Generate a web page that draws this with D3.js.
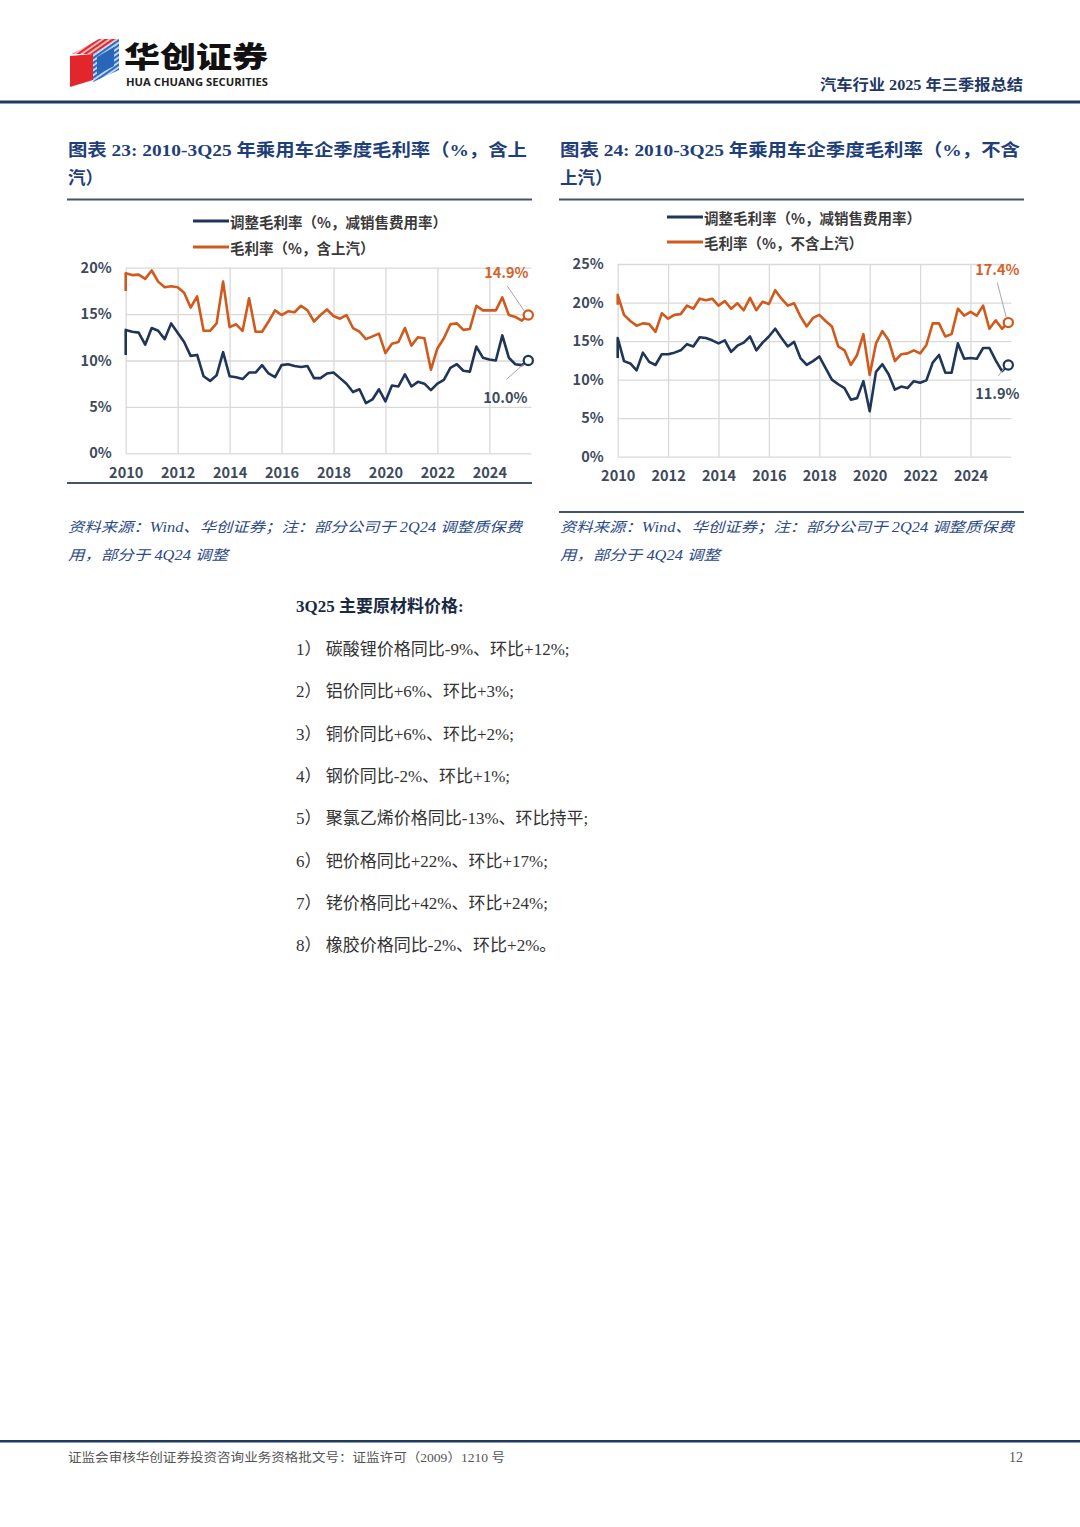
<!DOCTYPE html>
<html><head><meta charset="utf-8">
<script src="https://cdn.jsdelivr.net/npm/d3@7"></script>
<style>
html,body{margin:0;padding:0;background:#fff;}
svg{display:block;}
</style></head>
<body>
<svg id="page" width="1080" height="1527"></svg>
<script>
// ---------- DATA ----------
const years = [2010, 2012, 2014, 2016, 2018, 2020, 2022, 2024];
const firstYear = 2010;
const nQuarters = 63; // 2010Q1 .. 2025Q3
const quarters = d3.range(nQuarters).map(i => `${firstYear + Math.floor(i / 4)}Q${(i % 4) + 1}`);

// Chart 23 (含上汽)
const c1Open = { adj: 10.6, gm: 17.5 };
const c1Adj = [13.3,13.1,13.0,11.7,13.5,13.2,12.3,14.0,13.0,12.0,10.5,10.6,8.3,7.8,8.4,10.9,
  8.3,8.2,8.0,8.7,8.7,9.5,8.6,8.2,9.5,9.6,9.4,9.3,9.4,8.1,8.1,8.6,
  8.7,8.1,7.5,6.6,6.9,5.4,5.8,6.9,5.6,7.3,7.2,8.5,7.2,7.7,7.5,6.8,
  7.5,7.9,9.2,9.6,8.9,8.8,11.5,10.3,10.1,10.0,12.7,10.3,9.6,9.5,10.0];
const c1Gm = [19.4,19.2,19.25,18.8,19.7,18.5,17.9,18.0,17.9,17.3,15.7,16.9,13.2,13.2,14.0,18.5,
  13.6,13.9,13.2,16.7,13.1,13.1,14.2,15.4,14.9,15.3,15.2,15.9,15.4,14.2,14.9,15.5,
  14.8,14.5,14.9,13.5,13.1,12.3,12.6,12.9,10.8,11.8,12.0,13.5,11.6,12.5,12.4,9.0,
  11.3,12.4,13.9,14.0,13.3,13.4,15.9,15.4,15.4,15.4,16.8,14.9,14.7,14.3,14.9];

// Chart 24 (不含上汽)
const c2Open = { adj: 12.8, gm: 19.7 };
const c2Adj = [15.4,12.4,12.1,11.2,13.5,12.3,11.9,13.3,13.3,13.5,13.8,14.6,14.3,15.5,15.4,15.1,
  14.7,15.1,13.6,14.4,14.8,15.6,13.8,14.8,15.6,16.6,15.4,14.3,14.9,12.8,11.9,12.4,
  13.0,11.5,10.0,9.4,8.9,7.4,7.6,9.8,5.9,11.0,12.0,10.7,8.7,9.1,8.9,9.8,
  9.6,9.9,12.2,13.2,10.9,10.9,14.7,12.7,12.8,12.7,14.1,14.1,12.5,11.1,11.9];
const c2Gm = [21.0,18.4,17.6,17.0,17.3,17.2,16.2,18.6,17.9,18.4,18.5,19.6,19.2,20.5,20.3,20.5,
  19.6,20.2,19.2,19.9,19.0,20.6,19.0,20.1,19.8,21.6,20.5,19.6,19.9,18.2,16.9,18.0,
  18.4,17.6,16.9,14.3,13.8,11.9,13.2,15.9,10.6,14.7,16.3,15.1,12.4,13.3,13.4,13.8,
  13.4,14.5,17.3,17.3,15.6,15.9,19.2,18.3,18.8,18.3,19.6,16.6,17.7,16.6,17.4];

const c1Ticks = [0, 5, 10, 15, 20];
const c2Ticks = [0, 5, 10, 15, 20, 25];
const legend1 = ["调整毛利率（%，减销售费用率）", "毛利率（%，含上汽）"];
const legend2 = ["调整毛利率（%，减销售费用率）", "毛利率（%，不含上汽）"];

const listItems = [
  "1） 碳酸锂价格同比-9%、环比+12%;",
  "2） 铝价同比+6%、环比+3%;",
  "3） 铜价同比+6%、环比+2%;",
  "4） 钢价同比-2%、环比+1%;",
  "5） 聚氯乙烯价格同比-13%、环比持平;",
  "6） 钯价格同比+22%、环比+17%;",
  "7） 铑价格同比+42%、环比+24%;",
  "8） 橡胶价格同比-2%、环比+2%。"
];

// ---------- STYLE ----------
const NAVY = "#1f3559";
const ORANGE = "#d0591c";
const TITLE_BLUE = "#1f3f7a";
const AXIS_TXT = "#3d4a5c";
const SANS = "'Noto Sans CJK SC','Noto Sans',sans-serif";
const SERIF = "'Liberation Serif','Noto Sans CJK SC',serif";

const svg = d3.select("#page");

// ---------- HEADER ----------
const defs = svg.append("defs");
const pr = defs.append("pattern").attr("id", "redStripe").attr("patternUnits", "userSpaceOnUse")
  .attr("width", 4).attr("height", 4).attr("patternTransform", "rotate(-35)");
pr.append("rect").attr("width", 4).attr("height", 4).attr("fill", "#f7c9c9");
pr.append("rect").attr("width", 4).attr("height", 2.2).attr("fill", "#e0262b");
const pb = defs.append("pattern").attr("id", "blueStripe").attr("patternUnits", "userSpaceOnUse")
  .attr("width", 4).attr("height", 4).attr("patternTransform", "rotate(-35)");
pb.append("rect").attr("width", 4).attr("height", 4).attr("fill", "#cfe0f5");
pb.append("rect").attr("width", 4).attr("height", 2.2).attr("fill", "#2a6cc0");

const logo = svg.append("g");
logo.append("polygon").attr("points", "72,54 99,39 119,39 93,54").attr("fill", "url(#redStripe)");
logo.append("polygon").attr("points", "70,56 93,54 93,80 70,87").attr("fill", "#e3262c");
logo.append("polygon").attr("points", "93,54 119,39 119,70 93,82").attr("fill", "url(#blueStripe)");
logo.append("polygon").attr("points", "97,57 114,47 114,66 97,75").attr("fill", "#2a66b8");

svg.append("text").attr("x", 124).attr("y", 68).attr("font-family", SANS).attr("font-weight", 900)
  .attr("font-size", 29).attr("fill", "#111").attr("textLength", 144).attr("lengthAdjust", "spacingAndGlyphs").text("华创证券");
svg.append("text").attr("x", 126).attr("y", 85.5).attr("font-family", "'Open Sans','Liberation Sans',sans-serif").attr("font-weight", 700)
  .attr("font-size", 10).attr("fill", "#222").attr("textLength", 142).attr("lengthAdjust", "spacingAndGlyphs").text("HUA CHUANG SECURITIES");
svg.append("text").attr("x", 1023).attr("y", 90).attr("text-anchor", "end").attr("font-family", SERIF)
  .attr("font-weight", 700).attr("font-size", 15).attr("fill", "#1f3864")
  .attr("textLength", 203).attr("lengthAdjust", "spacingAndGlyphs").text("汽车行业 2025 年三季报总结");
svg.append("rect").attr("x", 0).attr("y", 100.5).attr("width", 1080).attr("height", 3).attr("fill", "#1e3a5f");

// ---------- TITLES ----------
function title(x, y1, line1, w1, line2) {
  svg.append("text").attr("x", x).attr("y", y1).attr("font-family", SERIF).attr("font-weight", 700)
    .attr("font-size", 17.5).attr("fill", TITLE_BLUE).attr("textLength", w1).attr("lengthAdjust", "spacingAndGlyphs").text(line1);
  svg.append("text").attr("x", x).attr("y", y1 + 28).attr("font-family", SERIF).attr("font-weight", 700)
    .attr("font-size", 17.5).attr("fill", TITLE_BLUE).text(line2);
}
title(68, 156, "图表 23:  2010-3Q25 年乘用车企季度毛利率（%，含上", 459, "汽）");
title(560, 156, "图表 24:  2010-3Q25 年乘用车企季度毛利率（%，不含", 460, "上汽）");

svg.append("rect").attr("x", 67).attr("y", 198.5).attr("width", 465).attr("height", 2).attr("fill", "#44546a");
svg.append("rect").attr("x", 559).attr("y", 198.5).attr("width", 465).attr("height", 2).attr("fill", "#44546a");
svg.append("rect").attr("x", 67).attr("y", 482).attr("width", 465).attr("height", 2).attr("fill", "#44546a");
svg.append("rect").attr("x", 559).attr("y", 511).attr("width", 465).attr("height", 2).attr("fill", "#44546a");

// ---------- CHARTS ----------
function chart(cfg) {
  const g = svg.append("g");
  const x = d3.scaleLinear().domain([0, nQuarters - 1]).range([cfg.left, cfg.right]);
  const y = d3.scaleLinear().domain([0, cfg.ymax]).range([cfg.bottom, cfg.top]);
  const gridRight = cfg.right + 3;

  // horizontal grid + y labels
  const yAxis = d3.axisLeft(y).tickValues(cfg.yticks).tickFormat(d => d + "%").tickSize(-(gridRight - cfg.left)).tickPadding(14);
  const ya = g.append("g").attr("transform", `translate(${cfg.left},0)`).call(yAxis);
  ya.select(".domain").remove();
  ya.selectAll(".tick line").attr("stroke", "#d9d9d9").attr("stroke-width", 1.3);
  ya.selectAll(".tick text").attr("font-family", SANS).attr("font-weight", 700).attr("font-size", 14.5).attr("fill", AXIS_TXT);

  // vertical grid + x labels
  const yearIdx = years.map(yr => quarters.indexOf(yr + "Q1"));
  const xAxis = d3.axisBottom(x).tickValues(yearIdx).tickFormat(i => quarters[i].slice(0, 4)).tickSize(-(cfg.bottom - cfg.top)).tickPadding(cfg.xPad);
  const xa = g.append("g").attr("transform", `translate(0,${cfg.bottom})`).call(xAxis);
  xa.select(".domain").remove();
  xa.selectAll(".tick line").attr("stroke", "#d9d9d9").attr("stroke-width", 1.3);
  xa.selectAll(".tick text").attr("font-family", SANS).attr("font-weight", 700).attr("font-size", 14.5).attr("fill", AXIS_TXT);

  const line = d3.line().x(d => x(d.i)).y(d => y(d.v)).curve(d3.curveLinear);
  const series = [
    { vals: cfg.adj, open: cfg.open.adj, color: NAVY },
    { vals: cfg.gm, open: cfg.open.gm, color: ORANGE }
  ];
  series.forEach(s => {
    const pts = [{ i: 0, v: s.open }].concat(s.vals.map((v, i) => ({ i, v })));
    g.append("path").datum(pts).attr("d", line).attr("fill", "none").attr("stroke", s.color)
      .attr("stroke-width", 2.6).attr("stroke-linejoin", "round");
  });

  // end markers + labels
  const last = nQuarters - 1;
  const ends = [
    { v: cfg.gm[last], color: ORANGE, lab: cfg.labGm },
    { v: cfg.adj[last], color: NAVY, lab: cfg.labAdj }
  ];
  ends.forEach(e => {
    const cx = x(last), cy = y(e.v);
    const lx = cx + e.lab.dx, ly = cy + e.lab.dy;
    g.append("line").attr("x1", lx + e.lab.lx1).attr("y1", ly + e.lab.ly1).attr("x2", cx + e.lab.lx2).attr("y2", cy + e.lab.ly2)
      .attr("stroke", "#a6a6a6").attr("stroke-width", 1);
    g.append("circle").attr("cx", cx).attr("cy", cy).attr("r", 4.6).attr("fill", "#fff")
      .attr("stroke", e.color).attr("stroke-width", 2.2);
    g.append("text").attr("x", lx).attr("y", ly).attr("text-anchor", "middle").attr("dominant-baseline", "central")
      .attr("font-family", SANS).attr("font-weight", 700).attr("font-size", 14.5)
      .attr("fill", e.color === ORANGE ? "#d4622a" : AXIS_TXT).text(d3.format(".1f")(e.v) + "%");
  });

  // legend
  cfg.legend.forEach((t, k) => {
    const ly = cfg.legY + k * cfg.legGap;
    g.append("line").attr("x1", cfg.legX).attr("x2", cfg.legX + 36).attr("y1", ly).attr("y2", ly)
      .attr("stroke", k === 0 ? NAVY : ORANGE).attr("stroke-width", 2.8);
    g.append("text").attr("x", cfg.legX + 37).attr("y", ly).attr("dominant-baseline", "central")
      .attr("font-family", SANS).attr("font-weight", 700).attr("font-size", 14.5).attr("fill", "#3a3a3a").text(t);
  });
}

chart({
  left: 125.7, right: 528.3, top: 267.7, bottom: 453.3, ymax: 20, yticks: c1Ticks, xPad: 14,
  adj: c1Adj, gm: c1Gm, open: c1Open, legend: legend1, legX: 193, legY: 221, legGap: 26,
  labGm: { dx: -22, dy: -44, lx1: 1, ly1: 15, lx2: -4, ly2: -4 },
  labAdj: { dx: -23, dy: 36, lx1: 1, ly1: -17, lx2: -4, ly2: 3 }
});
chart({
  left: 617.7, right: 1008.3, top: 264, bottom: 456.7, ymax: 25, yticks: c2Ticks, xPad: 14,
  adj: c2Adj, gm: c2Gm, open: c2Open, legend: legend2, legX: 667, legY: 217, legGap: 25,
  labGm: { dx: -11, dy: -54, lx1: 0, ly1: 14, lx2: -2, ly2: -5 },
  labAdj: { dx: -11, dy: 28, lx1: 1, ly1: -17, lx2: -4, ly2: 3 }
});

// ---------- SOURCES ----------
function source(x, w) {
  svg.append("text").attr("x", x).attr("y", 532).attr("font-family", SERIF).attr("font-style", "italic")
    .attr("font-size", 14).attr("fill", "#2b4a86").attr("textLength", w).attr("lengthAdjust", "spacingAndGlyphs")
    .text("资料来源：Wind、华创证券；注：部分公司于 2Q24 调整质保费");
  svg.append("text").attr("x", x).attr("y", 560).attr("font-family", SERIF).attr("font-style", "italic")
    .attr("font-size", 14).attr("fill", "#2b4a86").attr("textLength", 160).attr("lengthAdjust", "spacingAndGlyphs").text("用，部分于 4Q24 调整");
}
source(68, 454);
source(560, 454);

// ---------- BODY ----------
svg.append("text").attr("x", 296).attr("y", 612).attr("font-family", SERIF).attr("font-weight", 700)
  .attr("font-size", 17).attr("fill", "#1a2a44").text("3Q25 主要原材料价格:");
listItems.forEach((t, k) => {
  svg.append("text").attr("x", 296).attr("y", 655 + k * 42.3).attr("font-family", SERIF)
    .attr("font-size", 17).attr("fill", "#333").text(t);
});

// ---------- FOOTER ----------
svg.append("rect").attr("x", 0).attr("y", 1440).attr("width", 1080).attr("height", 2.5).attr("fill", "#1e3a5f");
svg.append("text").attr("x", 68).attr("y", 1462).attr("font-family", SERIF).attr("font-size", 12.5)
  .attr("fill", "#555").attr("textLength", 437).attr("lengthAdjust", "spacingAndGlyphs")
  .text("证监会审核华创证券投资咨询业务资格批文号：证监许可（2009）1210 号");
svg.append("text").attr("x", 1023).attr("y", 1462).attr("text-anchor", "end").attr("font-family", SERIF)
  .attr("font-size", 14).attr("fill", "#555").text("12");
</script>
</body></html>
